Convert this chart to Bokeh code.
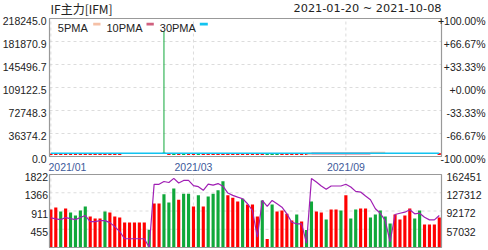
import math
from bokeh.plotting import figure
from bokeh.models import Range1d, ColumnDataSource
from bokeh.core.properties import value
from bokeh.embed import file_html
from bokeh.resources import INLINE

NaN = float("nan")

# ---------------- data ----------------
title_text = "IF主力[IFM]"
date_text = "2021-01-20 ~ 2021-10-08"
legend_labels = ["5PMA", "10PMA", "30PMA"]
legend_colors = ["#f5c0a6", "#d0607e", "#12c3f0"]

x_tick_idx = [0, 29, 60]
x_tick_labels = ["2021/01", "2021/03", "2021/09"]

price_max = 218245.0
price_ticks = [0.0, 36374.2, 72748.3, 109122.5, 145496.7, 181870.9, 218245.0]
pct_ticks = [-100.0, -66.67, -33.33, 0.0, 33.33, 66.67, 100.0]
pct_labels = ["-100.00%", "-66.67%", "-33.33%", "+0.00%", "+33.33%", "+66.67%", "+100.00%"]

vol_max = 1822
vol_ticks = [455, 911, 1366, 1822]
oi_min, oi_max = 21892, 162451
oi_ticks = [57032, 92172, 127312, 162451]

volume = [948, 999, 898, 974, 873, 798, 923, 1024, 772, 722,
          722, 898, 873, 772, 747, 622, 622, 622, 622, 622,
          445, 1100, 1100, 1326, 1125, 1470, 1193, 1343, 1343, 1024,
          1301, 1024, 1276, 1343, 1427, 1656, 1301, 1243, 1150, 1218,
          1075, 1075, 772, 1175, 211, 1075, 898, 923, 840, 672,
          823, 647, 438, 1150, 898, 873, 697, 948, 948, 923,
          1301, 722, 948, 974, 974, 747, 823, 923, 772, 597,
          823, 697, 798, 974, 722, 923, 571, 571, 571, 747]
vol_up = [1, 1, 0, 1, 0, 0, 0, 0, 1, 1,
          1, 0, 1, 1, 1, 1, 1, 1, 1, 1,
          0, 1, 1, 0, 0, 0, 1, 0, 0, 1,
          0, 1, 0, 0, 0, 0, 1, 1, 1, 0,
          1, 1, 1, 0, 1, 0, 1, 1, 1, 1,
          0, 1, 0, 0, 1, 1, 0, 1, 1, 0,
          1, 0, 0, 1, 1, 0, 0, 0, 0, 0,
          1, 1, 1, 1, 0, 0, 1, 1, 1, 1]
open_interest = [78960, 77040, 75670, 79550, 77600, 75670, 79550, 83430, 71780, 71780,
                 73720, 73720, 69840, 62080, 52370, 38780, 38780, 38780, 38780, 38780,
                 22500, 143620, 143620, 149000, 147000, 155000, 146000, 151000, 151000, 141000,
                 139000, 132000, 144000, 142000, 145000, 140000, 126730, 122260, 118960, 115860,
                 106150, 93140, 42000, 112560, 100900, 112560, 106150, 99550, 86730, 70430,
                 67320, 67320, 30000, 154680, 148080, 140320, 133910, 140320, 140320, 140320,
                 143620, 138380, 130020, 128670, 120900, 113910, 96440, 87900, 73720, 32960,
                 85380, 87900, 89840, 94500, 86730, 87900, 80130, 75090, 75090, 83430]

k_open = ([3400] * 15 + [NaN] * 8 + [5200] +
          [3400, 3600, 3400, 3600, 3400, 3400, 3600, 3400, 3400, 3400,
           3400, 3400, 3400, 3400, 3400, 3400, 3400, 3400, 3400, 3400,
           3600, 3600, 3600, 3400, 3400, 3400, 3400, 3400, 3400] +
          [NaN] * 26 + [3400])
k_close = ([3600] * 15 + [NaN] * 8 + [5000] +
           [3600, 3400, 3600, 3400, 3600, 3600, 3400, 3600, 3600, 3600,
            3600, 3600, 3600, 3600, 3600, 3600, 3600, 3600, 3600, 3600,
            3400, 3400, 3400, 3600, 3600, 3600, 3600, 3600, 3600] +
           [NaN] * 26 + [4400])
k_high = list(k_close)
k_high[23] = 198404
k_low = list(k_open)
k_low[23] = 5000

ma30 = [5000] * 80
ma10 = [NaN] * 53 + [4850] * 13 + [NaN] * 14
ma5 = [NaN] * 52 + [4200, 4200] + [NaN] * 11 + [5800] * 4 + [NaN] * 11

# ---------------- layout constants (pixels) ----------------
W, H = 488, 250
FL, FR = 49, 441            # panel left / right edge
MT, MB = 18, 156            # main panel top / bottom
VT, VB = 174, 247           # volume panel top / bottom

RED = "#ff0000"
GREEN = "#10a83a"
PURPLE = "#a01fb4"
TXT = "#222222"
XLAB = "#3d5a9a"
GRID = "#dcdcdc"
BORDER = "#999999"
AX_FONT = value("Liberation Sans")
FS = "10.5px"

N = len(volume)
idx = list(range(N))
X0, X1 = -0.28, N - 0.55


def span_range(lo, hi, p_lo, p_hi, flip=False):
    """range whose [lo, hi] lands on pixel rows p_hi..p_lo of a 0..H canvas"""
    per = (hi - lo) / (p_lo - p_hi)
    return Range1d(lo - (H - p_lo) * per, hi + p_hi * per)


ux = (X1 - X0) / (FR - FL)
p = figure(width=W, height=H, output_backend="svg", toolbar_location=None,
           x_range=Range1d(X0 - FL * ux, X1 + (W - FR) * ux),
           y_range=span_range(0, price_max, MB, MT),
           x_axis_location=None, y_axis_location=None, min_border=0,
           outline_line_color=None)
p.xgrid.visible = False
p.ygrid.visible = False
p.extra_y_ranges = {
    "vol": span_range(0, vol_max, VB, VT),
    "oi": span_range(oi_min, oi_max, VB, VT),
    "pct": span_range(-100, 100, MB, MT),
    "sy": Range1d(H, 0),
}
p.extra_x_ranges = {"sx": Range1d(0, W)}

# ---- grids ----
p.segment(x0=[X0] * len(price_ticks), x1=[X1] * len(price_ticks), y0=price_ticks, y1=price_ticks,
          line_color=GRID, line_dash="3 3", line_width=1)
p.segment(x0=x_tick_idx, x1=x_tick_idx, y0=[0] * 3, y1=[price_max] * 3,
          line_color=GRID, line_dash="3 3", line_width=1)
p.segment(x0=[X0] * len(vol_ticks), x1=[X1] * len(vol_ticks), y0=vol_ticks, y1=vol_ticks,
          line_color=GRID, line_dash="3 3", line_width=1, y_range_name="vol")
p.segment(x0=x_tick_idx, x1=x_tick_idx, y0=[0] * 3, y1=[vol_max] * 3,
          line_color=GRID, line_dash="3 3", line_width=1, y_range_name="vol")

# ---- main panel: candles + MAs ----
ksrc = ColumnDataSource(dict(
    x=idx, h=k_high, l=k_low,
    top=[max(a, b) if not (math.isnan(a) or math.isnan(b)) else NaN for a, b in zip(k_open, k_close)],
    bot=[min(a, b) if not (math.isnan(a) or math.isnan(b)) else NaN for a, b in zip(k_open, k_close)],
    col=[(RED if c >= o else GREEN) if not math.isnan(o) else RED for o, c in zip(k_open, k_close)],
))
p.segment(x0="x", y0="h", x1="x", y1="l", color="col", line_width=1, source=ksrc)
p.vbar(x="x", top="top", bottom="bot", width=0.6, fill_color="col", line_color="col",
       line_width=1, source=ksrc)
p.line(idx, ma5, color=legend_colors[0], line_width=2)
p.line(idx, ma10, color=legend_colors[1], line_width=2)
p.line(idx, ma30, color=legend_colors[2], line_width=1.5)

# ---- volume panel ----
vsrc = ColumnDataSource(dict(x=idx, v=volume, col=[RED if u else GREEN for u in vol_up]))
p.vbar(x="x", top="v", bottom=0, width=0.64, fill_color="col", line_color=None,
       source=vsrc, y_range_name="vol")
p.line(idx, open_interest, y_range_name="oi", color=PURPLE, line_width=1.2)

# ---- panel borders ----
p.quad(left=[FL, FL], right=[FR, FR], top=[MT, VT], bottom=[MB, VB],
       fill_color=None, line_color=BORDER, line_width=1.2,
       x_range_name="sx", y_range_name="sy")

# ---- axis labels ----
p.text(x=[X0] * len(price_ticks), y=price_ticks, text=["%.1f" % t for t in price_ticks],
       x_offset=-3, y_offset=2.5, text_align="right", text_baseline="middle",
       text_font=AX_FONT, text_font_size=FS, text_color=TXT)
p.text(x=[X1] * len(pct_ticks), y=pct_ticks, text=pct_labels, y_range_name="pct",
       x_offset=44, y_offset=2.5, text_align="right", text_baseline="middle",
       text_font=AX_FONT, text_font_size=FS, text_color=TXT)
p.text(x=[X0] * len(vol_ticks), y=vol_ticks, text=[str(t) for t in vol_ticks],
       y_range_name="vol", x_offset=-1.5, y_offset=2.5, text_align="right",
       text_baseline="middle", text_font=AX_FONT, text_font_size=FS, text_color=TXT)
p.text(x=[X1] * len(oi_ticks), y=oi_ticks, text=[str(t) for t in oi_ticks],
       y_range_name="oi", x_offset=5, y_offset=2.5, text_align="left",
       text_baseline="middle", text_font=AX_FONT, text_font_size=FS, text_color=TXT)
p.text(x=x_tick_idx[:1], y=[0], text=x_tick_labels[:1], x_offset=-2.4, y_offset=10,
       text_align="left", text_baseline="middle",
       text_font=AX_FONT, text_font_size=FS, text_color=XLAB)
p.text(x=x_tick_idx[1:], y=[0] * (len(x_tick_idx) - 1), text=x_tick_labels[1:], y_offset=10,
       text_align="center", text_baseline="middle",
       text_font=AX_FONT, text_font_size=FS, text_color=XLAB)

# ---- legend (text then swatch) ----
p.text(x=[57.3, 106.0, 159.3], y=[27.5] * 3, text=legend_labels,
       text_align="left", text_baseline="middle", text_font=AX_FONT,
       text_font_size="11px", text_color=TXT, x_range_name="sx", y_range_name="sy")
p.quad(left=[92.7, 146.0, 199.3], right=[100.0, 153.3, 207.3], top=[22.3] * 3,
       bottom=[25.0] * 3, fill_color=legend_colors, line_color=None,
       x_range_name="sx", y_range_name="sy")

# ---- title and date ----
p.text(x=[50], y=[8], text=[title_text], text_align="left", text_baseline="middle",
       text_font=value("Noto Sans CJK SC"), text_font_size="12px", text_color=TXT,
       x_range_name="sx", y_range_name="sy")
p.text(x=[441], y=[7.5], text=[date_text], text_align="right", text_baseline="middle",
       text_font=value("DejaVu Sans"), text_font_size="11.3px", text_color=TXT,
       x_range_name="sx", y_range_name="sy")

open("out.html", "w").write(file_html(p, INLINE))
